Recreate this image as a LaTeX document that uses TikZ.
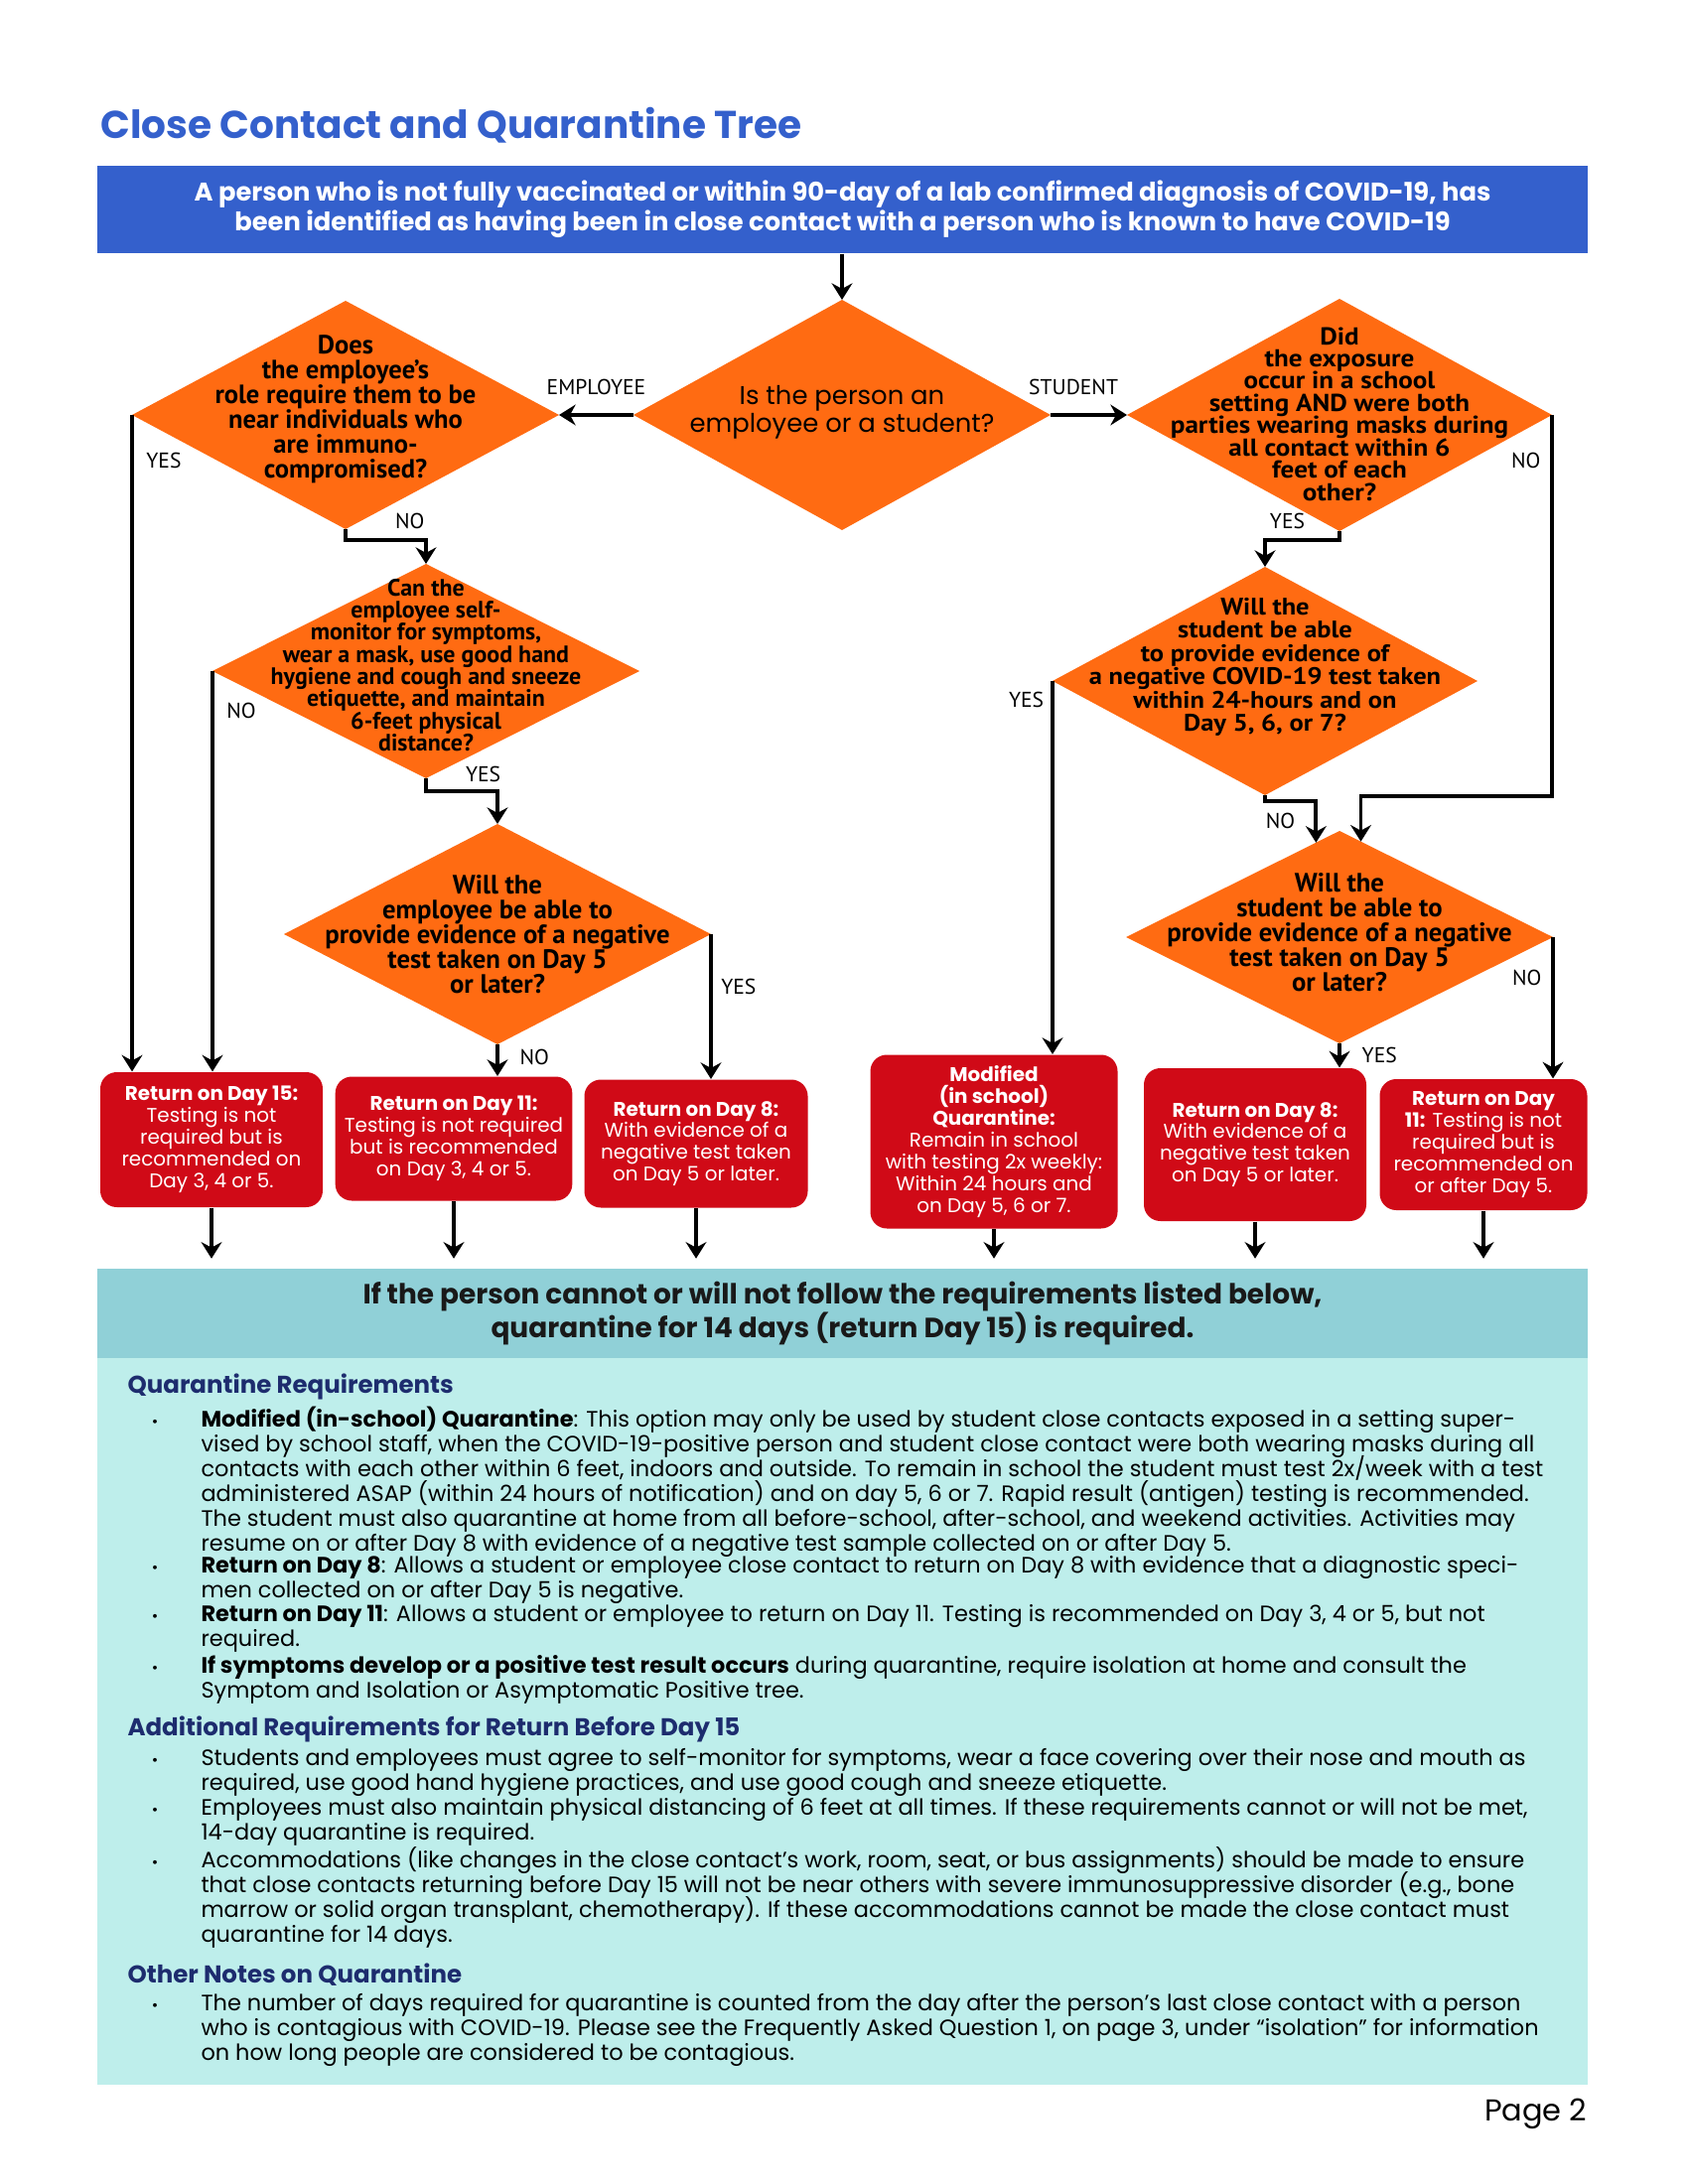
\documentclass[tikz,border=0pt]{standalone}
\usepackage{fontspec}
\setmainfont{Poppins}
\newfontfamily\ptsans{PT Sans}
\newfontfamily\ptwide{PT Sans}[FakeStretch=1.1]
\usetikzlibrary{positioning, arrows.meta, shapes.geometric, calc}
\definecolor{cdphblue}{HTML}{3460CC}
\definecolor{qorange}{HTML}{FF6B12}
\definecolor{qred}{HTML}{D00A17}
\definecolor{qteal}{HTML}{90D0D7}
\definecolor{qtealpale}{HTML}{BEEEEB}
\definecolor{qnavy}{HTML}{1D2C6E}
\newlength\pxu
\setlength\pxu{0.0127cm}
\newcommand\bul{\llap{\scalebox{0.7}{\textbullet}\hspace{0.55cm}}}
\newcommand\tightlines{\lineskiplimit=-\maxdimen}

\begin{document}
\begin{tikzpicture}[
    x=0.0127cm, y=-0.0127cm,
    decision/.style={diamond, fill=qorange, inner sep=0pt, outer sep=0pt},
    qtext/.style={align=center, font=\ptsans\bfseries\fontsize{#1}{9}\selectfont\tightlines},
    qtext/.default=9.6,
    outcome/.style={rectangle, rounded corners=6pt, fill=qred, text=white, align=center,
                    font=\fontsize{7.2}{7.9}\selectfont\tightlines},
    lbl/.style={font=\ptsans\fontsize{7.8}{8}\selectfont, inner sep=2.5pt},
    arr/.style={line width=1.4pt, -{Stealth[length=6pt, width=7.5pt, inset=2pt]}},
    head/.style={anchor=west, inner sep=0pt, text=qnavy, font=\bfseries\fontsize{8.85}{10}\selectfont},
    para/.style={anchor=north west, align=left, inner sep=0pt,
                 font=\fontsize{8.1}{9.08}\selectfont\tightlines},
  ]
  \useasboundingbox (0,0) rectangle (1700,2200);

  % Title and starting box
  \node[anchor=west, inner sep=0pt, text=cdphblue, font=\bfseries\fontsize{14.1}{16}\selectfont]
    (title) at (101,126) {Close Contact and Quarantine Tree};
  \node[fill=cdphblue, text=white, align=center, minimum width=1501\pxu, minimum height=88\pxu,
        font=\bfseries\fontsize{9.3}{11}\selectfont] (hdr) at (848.5,211)
    {A person who is not fully vaccinated or within 90-day of a lab confirmed diagnosis of COVID-19, has\\
     been identified as having been in close contact with a person who is known to have COVID-19};

  % Decisions
  \node[decision, minimum width=420\pxu, minimum height=232\pxu] (who) at (848,418) {};
  \node[align=center, font=\fontsize{9.35}{10.1}\selectfont] (whoT) at (848,415)
    {Is the person an\\employee or a student?};

  \node[decision, minimum width=430\pxu, minimum height=230\pxu] (emprole) at (348,418) {};
  \node[qtext=9.6] (emproleT) at (348,412)
    {Does\\the employee’s\\role require them to be\\near individuals who\\are immuno-\\compromised?};

  \node[decision, minimum width=428\pxu, minimum height=234\pxu] (school) at (1349,418) {};
  \node[qtext, font=\ptwide\bfseries\fontsize{8.9}{8.1}\selectfont\tightlines] (schoolT) at (1349,417)
    {Did\\the exposure\\occur in a school\\setting AND were both\\parties wearing masks during\\all contact within 6\\feet of each\\other?};

  \node[decision, minimum width=430\pxu, minimum height=216\pxu] (selfmon) at (429,676) {};
  \node[qtext, font=\ptsans\bfseries\fontsize{8.65}{8.06}\selectfont\tightlines] (selfmonT) at (429,670)
    {Can the\\employee self-\\monitor for symptoms,\\wear a mask, use good hand\\hygiene and cough and sneeze\\etiquette, and maintain\\6-feet physical\\distance?};

  \node[decision, minimum width=428\pxu, minimum height=230\pxu] (negq) at (1274,686) {};
  \node[qtext, font=\ptwide\bfseries\fontsize{8.7}{8.5}\selectfont\tightlines] (negqT) at (1274,672)
    {Will the\\student be able\\to provide evidence of\\a negative COVID-19 test taken\\within 24-hours and on\\Day 5, 6, or 7?};

  \node[decision, minimum width=430\pxu, minimum height=222\pxu] (testemp) at (501,941) {};
  \node[qtext=9.65] (testempT) at (501,941)
    {Will the\\employee be able to\\provide evidence of a negative\\test taken on Day 5\\or later?};

  \node[decision, minimum width=430\pxu, minimum height=214\pxu] (lateq) at (1349,944) {};
  \node[qtext=9.65] (lateqT) at (1349,939)
    {Will the\\student be able to\\provide evidence of a negative\\test taken on Day 5\\or later?};

  % Outcomes
  \node[outcome, minimum width=224\pxu, minimum height=136\pxu] (r15) at (213,1148)
    {\textbf{Return on Day 15:}\\Testing is not\\required but is\\recommended on\\Day 3, 4 or 5.};
  \node[outcome, minimum width=236\pxu, minimum height=125\pxu] (r11) at (457,1147)
    {\textbf{Return on Day 11:}\\Testing is not required\\but is recommended\\on Day 3, 4 or 5.};
  \node[outcome, minimum width=225\pxu, minimum height=129\pxu] (r8emp) at (701,1152)
    {\textbf{Return on Day 8:}\\With evidence of a\\negative test taken\\on Day 5 or later.};
  \node[outcome, minimum width=249\pxu, minimum height=175\pxu] (modq) at (1001,1150)
    {\textbf{Modified}\\\textbf{(in school)}\\\textbf{Quarantine:}\\Remain in school\\with testing 2x weekly:\\Within 24 hours and\\on Day 5, 6 or 7.};
  \node[outcome, minimum width=224\pxu, minimum height=154\pxu] (r8stu) at (1264,1153)
    {\textbf{Return on Day 8:}\\With evidence of a\\negative test taken\\on Day 5 or later.};
  \node[outcome, minimum width=209\pxu, minimum height=132\pxu] (r11stu) at (1494,1153)
    {\textbf{Return on Day}\\\textbf{11:} Testing is not\\required but is\\recommended on\\or after Day 5.};

  % Requirements panel
  \fill[qtealpale] (98,1368) rectangle (1599,2100);
  \node[fill=qteal, minimum width=1501\pxu, minimum height=90\pxu, align=center,
        text=black!90, font=\bfseries\fontsize{10.1}{12}\selectfont] (banner) at (848.5,1323)
    {If the person cannot or will not follow the requirements listed below,\\
     quarantine for 14 days (return Day 15) is required.};

  % Connections
  \draw[arr] (hdr.south -| who.north) -- (who.north);
  \draw[arr] (who.west) -- node[lbl, above=4pt] {EMPLOYEE} (emprole.east);
  \draw[arr] (who.east) -- node[lbl, pos=0.3, above=4pt] {STUDENT} (school.west);

  \draw[arr] (emprole.west) -- node[lbl, pos=0.07, right=2pt] {YES} (emprole.west |- r15.north);
  \draw[arr] (emprole.south) -- ++(0,11) -| node[lbl, pos=0.4, above=1pt] {NO} (selfmon.north);
  \draw[arr] (selfmon.west) -- node[lbl, pos=0.1, right=2pt] {NO} (selfmon.west |- r15.north);
  \draw[arr] (selfmon.south) -- ++(0,13) -| node[lbl, pos=0.4, above=0pt] {YES} (testemp.north);
  \draw[arr] (testemp.south) -- node[lbl, pos=0.4, right=5pt] {NO} (testemp.south |- r11.north);
  \draw[arr] (testemp.east) -- node[lbl, pos=0.36, right=0.5pt] {YES} (testemp.east |- r8emp.north);

  \draw[arr] (school.south) -- ++(0,9) -| node[lbl, pos=0.35, above=1pt] {YES} (negq.north);
  \draw[arr] (school.east) -- node[lbl, pos=0.12, left=1pt] {NO} ++(0,384)
    -| ($(lateq.north)!0.1!(lateq.east)$);
  \draw[arr] (negq.west) -- node[lbl, pos=0.05, left=0pt] {YES} (negq.west |- modq.north);
  \draw[arr] (negq.south) -- ++(0,6) -| node[lbl, pos=0.15, below=1pt] {NO}
    ($(lateq.north)!0.11!(lateq.west)$);
  \draw[arr] (lateq.south) -- node[lbl, pos=0.5, right=5pt] {YES} (lateq.south |- r8stu.north);
  \draw[arr] (lateq.east) -- node[lbl, pos=0.29, left=1pt] {NO} (lateq.east |- r11stu.north);

  \draw[arr, shorten >=3.5pt] (r15.south) -- (r15.south |- banner.north);
  \draw[arr, shorten >=3.5pt] (r11.south) -- (r11.south |- banner.north);
  \draw[arr, shorten >=3.5pt] (r8emp.south) -- (r8emp.south |- banner.north);
  \draw[arr, shorten >=3.5pt] (modq.south) -- (modq.south |- banner.north);
  \draw[arr, shorten >=3.5pt] (r8stu.south) -- (r8stu.south |- banner.north);
  \draw[arr, shorten >=3.5pt] (r11stu.south) -- (r11stu.south |- banner.north);

  % Notes
  \node[head] (hq) at (128,1397) {Quarantine Requirements};
  \node[para] (q1) at (202,1416)
    {\bul\textbf{Modified (in-school) Quarantine}: This option may only be used by student close contacts exposed in a setting super-\\
     vised by school staff, when the COVID-19-positive person and student close contact were both wearing masks during all\\
     contacts with each other within 6 feet, indoors and outside. To remain in school the student must test 2x/week with a test\\
     administered ASAP (within 24 hours of notification) and on day 5, 6 or 7. Rapid result (antigen) testing is recommended.\\
     The student must also quarantine at home from all before-school, after-school, and weekend activities. Activities may\\
     resume on or after Day 8 with evidence of a negative test sample collected on or after Day 5.};
  \node[para] (q2) at (202,1567)
    {\bul\textbf{Return on Day 8}: Allows a student or employee close contact to return on Day 8 with evidence that a diagnostic speci-\\
     men collected on or after Day 5 is negative.};
  \node[para] (q3) at (202,1616)
    {\bul\textbf{Return on Day 11}: Allows a student or employee to return on Day 11. Testing is recommended on Day 3, 4 or 5, but not\\
     required.};
  \node[para] (q4) at (202,1667)
    {\bul\textbf{If symptoms develop or a positive test result occurs} during quarantine, require isolation at home and consult the\\
     Symptom and Isolation or Asymptomatic Positive tree.};

  \node[head] (ha) at (128,1742) {Additional Requirements for Return Before Day 15};
  \node[para] (a1) at (202,1761)
    {\bul Students and employees must agree to self-monitor for symptoms, wear a face covering over their nose and mouth as\\
     required, use good hand hygiene practices, and use good cough and sneeze etiquette.};
  \node[para] (a2) at (202,1811)
    {\bul Employees must also maintain physical distancing of 6 feet at all times. If these requirements cannot or will not be met,\\
     14-day quarantine is required.};
  \node[para] (a3) at (202,1860)
    {\bul Accommodations (like changes in the close contact’s work, room, seat, or bus assignments) should be made to ensure\\
     that close contacts returning before Day 15 will not be near others with severe immunosuppressive disorder (e.g., bone\\
     marrow or solid organ transplant, chemotherapy). If these accommodations cannot be made the close contact must\\
     quarantine for 14 days.};

  \node[head] (ho) at (128,1989) {Other Notes on Quarantine};
  \node[para] (o1) at (202,2008)
    {\bul The number of days required for quarantine is counted from the day after the person’s last close contact with a person\\
     who is contagious with COVID-19. Please see the Frequently Asked Question 1, on page 3, under “isolation” for information\\
     on how long people are considered to be contagious.};

  \node[anchor=east, inner sep=0pt, font=\fontsize{11}{13}\selectfont] (pg) at (1599,2129) {Page 2};
\end{tikzpicture}
\end{document}
